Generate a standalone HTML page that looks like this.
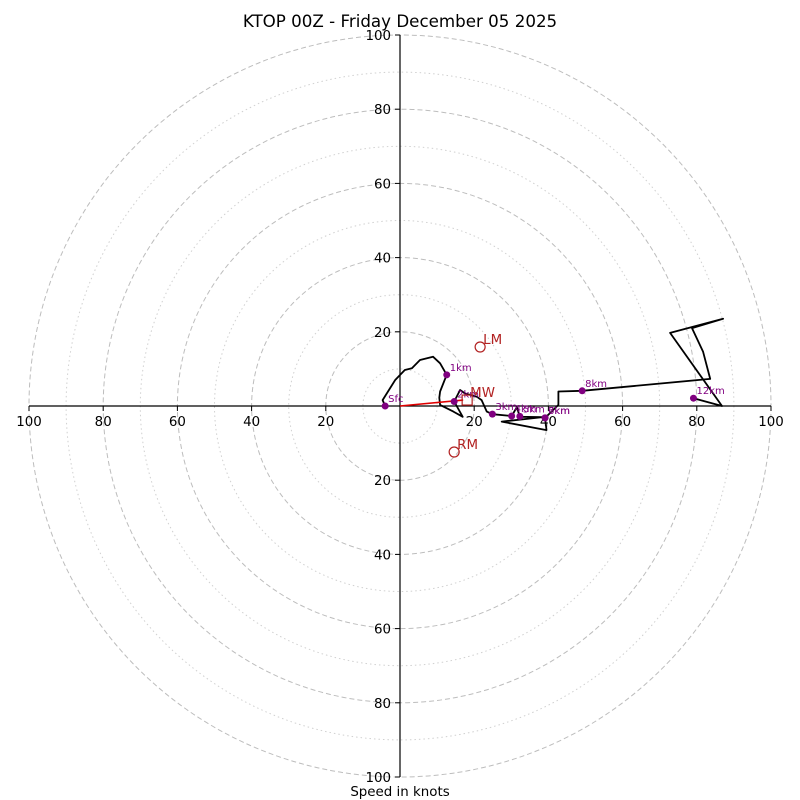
<!DOCTYPE html>
<html><head><meta charset="utf-8"><style>
html,body{margin:0;padding:0;background:#fff;}
svg{display:block;font-family:"DejaVu Sans","Liberation Sans",sans-serif;}
</style></head><body>
<svg id="chart" width="800" height="800" viewBox="0 0 800 800">
<text x="400" y="27" text-anchor="middle" font-size="16.7">KTOP 00Z - Friday December 05 2025</text>
<text x="400" y="796" text-anchor="middle" font-size="13.4">Speed in knots</text>
<g id="rings"></g><g id="axes"></g><g id="trace"></g><g id="marks"></g>
</svg>
<script>
const ringVals=[10,20,30,40,50,60,70,80,90,100];
const tickVals=[20,40,60,80,100];
const traceU=[-4.0,-4.7,-1.3,1.3,3.2,5.4,8.9,10.8,12.6,10.8,10.6,10.8,14.4,16.9,14.6,16.2,17.5,20.7,22.0,23.4,24.9,30.1,31.5,32.3,38.5,27.4,39.5,39.1,42.7,42.7,49.1,83.6,81.7,78.7,87.1,72.8,86.8,79.1];
const traceV=[0.0,1.6,7.0,9.7,10.2,12.4,13.3,11.5,8.4,3.9,2.2,0.3,-1.5,-2.9,1.2,4.3,3.4,2.5,1.6,-1.5,-2.2,-2.7,-0.3,-2.9,-3.0,-4.2,-6.5,-3.2,0.3,3.9,4.1,7.3,14.6,21.0,23.5,19.7,0.0,2.1];
const dotLabels=["Sfc","1km","2km","3km","4km","5km","6km","7km","8km","12km"];
const dotU=[-4.0,12.6,14.6,24.9,30.1,32.3,39.1,39.1,49.1,79.1];
const dotV=[0.0,8.4,1.2,-2.2,-2.7,-2.8,-3.2,-3.2,4.1,2.1];
const motionLabels=["LM","MW","RM"];
const motionU=[21.6,18.1,14.6];
const motionV=[15.9,1.6,-12.4];

const CX=400,CY=406,S=3.71;
const px=u=>CX+u*S, py=v=>CY-v*S;
const NS="http://www.w3.org/2000/svg";
function mk(tag,attrs,parent){const e=document.createElementNS(NS,tag);for(const k in attrs)e.setAttribute(k,attrs[k]);parent.appendChild(e);return e;}
const rings=document.getElementById('rings'),axes=document.getElementById('axes'),trace=document.getElementById('trace'),marks=document.getElementById('marks');
ringVals.forEach(r=>{
  const dashed=r%20===0;
  const c=mk('circle',{cx:CX,cy:CY,r:r*S,fill:'none',stroke:dashed?'#bdbdbd':'#d0d0d0','stroke-width':1,'stroke-dasharray':dashed?'5,3':'1.5,3'},rings);
  
  
});
let l=mk('line',{x1:px(-100),y1:CY,x2:px(100),y2:CY,stroke:'#000','stroke-width':1.2},axes);


l=mk('line',{x1:CX,y1:py(100),x2:CX,y2:py(-100),stroke:'#000','stroke-width':1.2},axes);


tickVals.forEach(t=>{
  [-1,1].forEach(sg=>{
    mk('line',{x1:px(sg*t),y1:CY,x2:px(sg*t),y2:CY+5,stroke:'#000'},axes);
    let tx=mk('text',{x:px(sg*t),y:CY+20,'text-anchor':'middle','font-size':13.4},axes);
    tx.textContent=t;
    
    
    mk('line',{x1:CX-5,y1:py(sg*t),x2:CX,y2:py(sg*t),stroke:'#000'},axes);
    let ty=mk('text',{x:CX-9,y:py(sg*t)+5,'text-anchor':'end','font-size':13.4},axes);
    ty.textContent=t;
    
    
  });
});
const pts=traceU.map((u,i)=>px(u).toFixed(1)+','+py(traceV[i]).toFixed(1)).join(' ');
const pl=mk('polyline',{points:pts,fill:'none',stroke:'#000','stroke-width':1.8,'stroke-linejoin':'round'},trace);


const ar=mk('line',{x1:CX,y1:CY,x2:px(motionU[1])-4,y2:py(motionV[1]),stroke:'#e00000','stroke-width':1.6},marks);


dotU.forEach((u,i)=>{
  const c=mk('circle',{cx:px(u),cy:py(dotV[i]),r:3.5,fill:'#800080'},marks);
  
  
  const t=mk('text',{x:px(u)+3,y:py(dotV[i])-4,'font-size':10,fill:'#800080'},marks);
  t.textContent=dotLabels[i];
  
  
});
motionLabels.forEach((m,i)=>{
  const x=px(motionU[i]),y=py(motionV[i]);
  let s;
  if(m==='MW'){s=mk('rect',{x:x-5,y:y-5,width:10,height:10,fill:'none',stroke:'#b22222','stroke-width':1.2},marks);}
  else{s=mk('circle',{cx:x,cy:y,r:5,fill:'none',stroke:'#b22222','stroke-width':1.2},marks);}
  
  
  const t=mk('text',{x:x+3,y:y-3,'font-size':13.4,fill:'#b22222'},marks);
  t.textContent=m;
  
  
});
</script>
</body></html>
